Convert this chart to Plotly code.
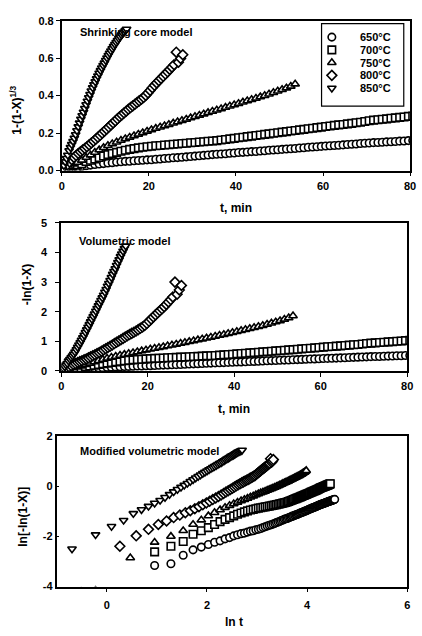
import numpy as np
import plotly.graph_objects as go

W, H = 422, 636
FONT = "Liberation Sans"

# ---- series: temperature, marker symbol ----
temps = ["650°C", "700°C", "750°C", "800°C", "850°C"]
symbols = ["circle", "square", "triangle-up", "diamond", "triangle-down"]

# ---- time (min) and shrinking-core function 1-(1-X)^(1/3) for each run ----
t_650 = [0, 0.6, 1.6, 2.6, 3.6, 4.6, 5.6, 6.6, 7.6, 8.6, 9.6,
         10.6, 11.6, 12.6, 13.6, 14.6, 15.6, 16.6, 17.6, 18.6, 19.6,
         20.6, 21.6, 22.6, 23.6, 24.6, 25.6, 26.6, 27.6, 28.6, 29.6,
         30.6, 31.6, 32.6, 33.6, 34.6, 35.6, 36.6, 37.6, 38.6, 39.6,
         40.6, 41.6, 42.6, 43.6, 44.6, 45.6, 46.6, 47.6, 48.6, 49.6,
         50.6, 51.6, 52.6, 53.6, 54.6, 55.6, 56.6, 57.6, 58.6, 59.6,
         60.6, 61.6, 62.6, 63.6, 64.6, 65.6, 66.6, 67.6, 68.6, 69.6,
         70.6, 71.6, 72.6, 73.6, 74.6, 75.6, 76.6, 77.6, 78.6, 79.6,
         80.6, 81.6, 82.6, 83.6, 84.6, 85.6, 86.6, 87.6, 88.6, 89.6,
         90.6, 91.6, 92.6, 93.6, 94.6]
sc_650 = [0.000, 0.002, 0.005, 0.014, 0.015, 0.021, 0.026, 0.029, 0.032, 0.035, 0.037,
          0.040, 0.042, 0.045, 0.047, 0.049, 0.050, 0.052, 0.054, 0.055, 0.057,
          0.058, 0.060, 0.062, 0.064, 0.066, 0.068, 0.069, 0.071, 0.073, 0.075,
          0.077, 0.079, 0.081, 0.083, 0.085, 0.087, 0.088, 0.090, 0.092, 0.094,
          0.096, 0.097, 0.099, 0.101, 0.102, 0.104, 0.106, 0.108, 0.110, 0.111,
          0.113, 0.115, 0.116, 0.118, 0.120, 0.122, 0.124, 0.126, 0.127, 0.129,
          0.131, 0.132, 0.134, 0.135, 0.137, 0.139, 0.140, 0.142, 0.144, 0.146,
          0.147, 0.149, 0.150, 0.151, 0.153, 0.154, 0.155, 0.157, 0.158, 0.160,
          0.161, 0.162, 0.164, 0.165, 0.166, 0.168, 0.169, 0.170, 0.172, 0.173,
          0.174, 0.175, 0.176, 0.178, 0.179]

t_700 = [0, 0.6, 1.6, 2.6, 3.6, 4.6, 5.6, 6.6, 7.6, 8.6, 9.6,
         10.6, 11.6, 12.6, 13.6, 14.6, 15.6, 16.6, 17.6, 18.6, 19.6,
         20.6, 21.6, 22.6, 23.6, 24.6, 25.6, 26.6, 27.6, 28.6, 29.6,
         30.6, 31.6, 32.6, 33.6, 34.6, 35.6, 36.6, 37.6, 38.6, 39.6,
         40.6, 41.6, 42.6, 43.6, 44.6, 45.6, 46.6, 47.6, 48.6, 49.6,
         50.6, 51.6, 52.6, 53.6, 54.6, 55.6, 56.6, 57.6, 58.6, 59.6,
         60.6, 61.6, 62.6, 63.6, 64.6, 65.6, 66.6, 67.6, 68.6, 69.6,
         70.6, 71.6, 72.6, 73.6, 74.6, 75.6, 76.6, 77.6, 78.6, 79.6,
         80.6, 81.6, 82.6, 83.6, 84.6, 85.6, 86.6]
sc_700 = [0.000, 0.002, 0.005, 0.024, 0.030, 0.036, 0.048, 0.055, 0.062, 0.070, 0.078,
          0.085, 0.091, 0.097, 0.103, 0.108, 0.113, 0.117, 0.121, 0.124, 0.127,
          0.130, 0.132, 0.134, 0.136, 0.138, 0.140, 0.142, 0.144, 0.146, 0.148,
          0.150, 0.152, 0.154, 0.156, 0.158, 0.160, 0.163, 0.166, 0.169, 0.172,
          0.175, 0.178, 0.181, 0.184, 0.187, 0.190, 0.193, 0.196, 0.199, 0.202,
          0.205, 0.208, 0.211, 0.214, 0.217, 0.220, 0.223, 0.226, 0.229, 0.232,
          0.235, 0.238, 0.241, 0.244, 0.246, 0.249, 0.252, 0.255, 0.258, 0.262,
          0.266, 0.269, 0.271, 0.274, 0.276, 0.279, 0.281, 0.284, 0.286, 0.289,
          0.291, 0.294, 0.296, 0.299, 0.301, 0.304, 0.307]

t_750 = [0, 0.6, 1.6, 2.6, 3.6, 4.6, 5.6, 6.6, 7.6, 8.6, 9.6,
         10.6, 11.6, 12.6, 13.6, 14.6, 15.6, 16.6, 17.6, 18.6, 19.6,
         20.6, 21.6, 22.6, 23.6, 24.6, 25.6, 26.6, 27.6, 28.6, 29.6,
         30.6, 31.6, 32.6, 33.6, 34.6, 35.6, 36.6, 37.6, 38.6, 39.6,
         40.6, 41.6, 42.6, 43.6, 44.6, 45.6, 46.6, 47.6, 48.6, 49.6,
         50.6, 51.6, 52.6, 53.6]
sc_750 = [0.000, 0.005, 0.019, 0.035, 0.044, 0.055, 0.070, 0.083, 0.097, 0.110, 0.122,
          0.133, 0.143, 0.152, 0.161, 0.170, 0.178, 0.186, 0.194, 0.202, 0.210,
          0.218, 0.225, 0.232, 0.239, 0.246, 0.253, 0.260, 0.267, 0.274, 0.281,
          0.288, 0.295, 0.302, 0.309, 0.316, 0.323, 0.330, 0.337, 0.344, 0.351,
          0.358, 0.365, 0.372, 0.379, 0.386, 0.393, 0.400, 0.408, 0.416, 0.424,
          0.432, 0.441, 0.450, 0.462]

t_800 = [0, 0.8, 1.3, 1.8, 2.3, 2.8, 3.3, 3.8, 4.3, 4.8, 5.3,
         5.8, 6.3, 6.8, 7.3, 7.8, 8.3, 8.8, 9.3, 9.8, 10.3,
         10.8, 11.3, 11.8, 12.3, 12.8, 13.3, 13.8, 14.3, 14.8, 15.3,
         15.8, 16.3, 16.8, 17.3, 17.8, 18.3, 18.8, 19.3, 19.8, 20.3,
         20.8, 21.3, 21.8, 22.3, 22.8, 23.3, 23.8, 24.3, 24.8, 25.3,
         25.8, 26.3, 26.8, 27.3, 27.8]
sc_800 = [0.000, 0.005, 0.030, 0.045, 0.058, 0.070, 0.080, 0.091, 0.100, 0.109, 0.118,
          0.127, 0.137, 0.147, 0.157, 0.167, 0.178, 0.188, 0.199, 0.210, 0.221,
          0.232, 0.243, 0.254, 0.265, 0.276, 0.287, 0.297, 0.307, 0.317, 0.327,
          0.336, 0.345, 0.354, 0.363, 0.372, 0.381, 0.390, 0.401, 0.414, 0.428,
          0.442, 0.455, 0.468, 0.480, 0.492, 0.503, 0.515, 0.527, 0.540, 0.552,
          0.565, 0.632, 0.578, 0.598, 0.618]

t_850 = [0, 0.2, 0.5, 0.8, 1.1, 1.4, 1.7, 2.0, 2.3, 2.6, 2.9,
         3.2, 3.5, 3.8, 4.1, 4.4, 4.7, 5.0, 5.3, 5.6, 5.9,
         6.2, 6.5, 6.8, 7.1, 7.4, 7.7, 8.0, 8.3, 8.6, 8.9,
         9.2, 9.5, 9.8, 10.1, 10.4, 10.7, 11.0, 11.3, 11.6, 11.9,
         12.2, 12.5, 12.8, 13.1, 13.4, 13.7, 14.0, 14.3, 14.6, 14.9]
sc_850 = [0.000, 0.004, 0.027, 0.047, 0.065, 0.082, 0.106, 0.123, 0.139, 0.156, 0.173,
          0.192, 0.213, 0.234, 0.254, 0.274, 0.293, 0.312, 0.332, 0.352, 0.371,
          0.389, 0.407, 0.425, 0.442, 0.458, 0.474, 0.490, 0.505, 0.520, 0.534,
          0.548, 0.561, 0.574, 0.588, 0.601, 0.615, 0.627, 0.639, 0.651, 0.663,
          0.674, 0.684, 0.695, 0.705, 0.714, 0.724, 0.732, 0.740, 0.748, 0.755]

times = [t_650, t_700, t_750, t_800, t_850]
shrinking = [sc_650, sc_700, sc_750, sc_800, sc_850]

# ---- axis ticks ----
x_ticks_t = [0, 20, 40, 60, 80]
y_ticks_sc = [0.0, 0.2, 0.4, 0.6, 0.8]
y_ticks_vol = [0, 1, 2, 3, 4, 5]
x_ticks_ln = [0, 2, 4, 6]
y_ticks_ln = [-4, -2, 0, 2]


def volumetric(sc):
    """-ln(1-X) from 1-(1-X)^(1/3)."""
    return -3.0 * np.log(1.0 - np.asarray(sc, dtype=float))


def log_or_nan(v):
    v = np.asarray(v, dtype=float)
    out = np.full(v.shape, np.nan)
    pos = v > 0
    out[pos] = np.log(v[pos])
    return out


def px_x(p):
    return p / W


def px_y(p):
    return 1.0 - p / H


fig = go.Figure()

marker_base = dict(size=7.5, color="white", line=dict(color="black", width=1.6))

for name, sym, t, sc in zip(temps, symbols, times, shrinking):
    t = np.asarray(t, dtype=float)
    sc = np.asarray(sc, dtype=float)
    k = volumetric(sc)
    mk = dict(marker_base, symbol=sym)
    fig.add_trace(go.Scatter(x=t, y=sc, mode="markers", marker=mk, name=name,
                             showlegend=False, xaxis="x", yaxis="y"))
    fig.add_trace(go.Scatter(x=t, y=k, mode="markers", marker=mk, name=name,
                             showlegend=False, xaxis="x2", yaxis="y2"))
    fig.add_trace(go.Scatter(x=log_or_nan(t), y=log_or_nan(k), mode="markers",
                             marker=mk, name=name, showlegend=False,
                             xaxis="x3", yaxis="y3"))

# ---- key box drawn in its own small pixel-unit axis ----
key_w, key_h = 84, 84
key_rows = list(range(len(temps)))
fig.add_trace(go.Scatter(
    x=[10.5] * len(temps), y=[13.7 + 13.0 * i for i in key_rows],
    mode="markers",
    marker=dict(size=7.5, color="white", line=dict(color="black", width=1.6),
                symbol=symbols),
    showlegend=False, hoverinfo="skip", xaxis="x4", yaxis="y4"))

tickfont = dict(family=FONT, size=11, color="black", weight="bold")
axis_common = dict(showline=True, linecolor="black", linewidth=1.6, mirror=True,
                   ticks="outside", ticklen=4, tickwidth=1.2, tickcolor="black",
                   showgrid=False, zeroline=False, tickfont=tickfont)

dom_top_x = [px_x(60), px_x(416)]
dom_top_y = [px_y(167.7), px_y(15)]
dom_mid_x = [px_x(59.5), px_x(413)]
dom_mid_y = [px_y(372), px_y(221)]
dom_bot_x = [px_x(54.8), px_x(413.2)]
dom_bot_y = [px_y(591.7), px_y(438.3)]

fig.update_layout(
    width=W, height=H,
    margin=dict(l=0, r=0, t=0, b=0),
    paper_bgcolor="white", plot_bgcolor="rgba(0,0,0,0)",
    showlegend=False,
    font=dict(family=FONT, color="black"),
    xaxis=dict(axis_common, domain=dom_top_x, range=[0, 80], tickvals=x_ticks_t,
               anchor="y"),
    yaxis=dict(axis_common, domain=dom_top_y, range=[0, 0.8], tickvals=y_ticks_sc,
               tickformat=".1f", anchor="x"),
    xaxis2=dict(axis_common, domain=dom_mid_x, range=[0, 80], tickvals=x_ticks_t,
                anchor="y2"),
    yaxis2=dict(axis_common, domain=dom_mid_y, range=[0, 5], tickvals=y_ticks_vol,
                anchor="x2", ticklabelstandoff=6),
    xaxis3=dict(axis_common, domain=dom_bot_x, range=[-1, 6], tickvals=x_ticks_ln,
                ticktext=[str(v) for v in x_ticks_ln], anchor="y3",
                ticklabelstandoff=3),
    yaxis3=dict(axis_common, domain=dom_bot_y, range=[-4, 2], tickvals=y_ticks_ln,
                ticktext=[str(v) for v in y_ticks_ln], anchor="x3",
                ticks="inside", ticklen=3),
    xaxis4=dict(domain=[px_x(325.5), px_x(409.5)], range=[0, key_w], visible=False,
                anchor="y4", fixedrange=True),
    yaxis4=dict(domain=[px_y(102), px_y(18)], range=[key_h, 0], visible=False,
                anchor="x4", fixedrange=True),
)

# key frame
fig.add_shape(type="rect", xref="paper", yref="paper",
              x0=px_x(325.5), x1=px_x(409.5), y0=px_y(102), y1=px_y(18),
              line=dict(color="black", width=1.2), fillcolor="rgba(0,0,0,0)",
              layer="above")

annotations = []
for i, name in enumerate(temps):
    annotations.append(dict(x=37, y=13.7 + 13.0 * i, xref="x4", yref="y4",
                            text=name, showarrow=False, xanchor="left",
                            yanchor="middle",
                            font=dict(family=FONT, size=11, weight="bold")))

label_font = dict(family=FONT, size=11, color="black", weight="bold")
title_font = dict(family=FONT, size=12, color="black", weight="bold")

# model names inside the panels
for txt, x0, yc in [("Shrinking core model", 77, 26.7),
                    ("Volumetric model", 76, 240),
                    ("Modified volumetric model", 76.5, 453.5)]:
    annotations.append(dict(x=px_x(x0), y=px_y(yc), xref="paper", yref="paper",
                            text=txt, showarrow=False, xanchor="left",
                            yanchor="middle", font=label_font))

# axis titles
for txt, xc, yc in [("t, min", 238, 206), ("t, min", 236, 411), ("ln t", 236, 628)]:
    annotations.append(dict(x=px_x(xc), y=px_y(yc), xref="paper", yref="paper",
                            text=txt, showarrow=False, xanchor="center",
                            yanchor="middle", font=title_font))

for txt, xc, yc in [("1-(1-X)<sup>1/3</sup>", 13, 106),
                    ("-ln(1-X)", 24, 284),
                    ("ln[-ln(1-X)]", 21, 521)]:
    annotations.append(dict(x=px_x(xc), y=px_y(yc), xref="paper", yref="paper",
                            text=txt, showarrow=False, textangle=-90,
                            xanchor="center", yanchor="middle", font=title_font))

fig.update_layout(annotations=annotations)

fig.write_html("out.html")
